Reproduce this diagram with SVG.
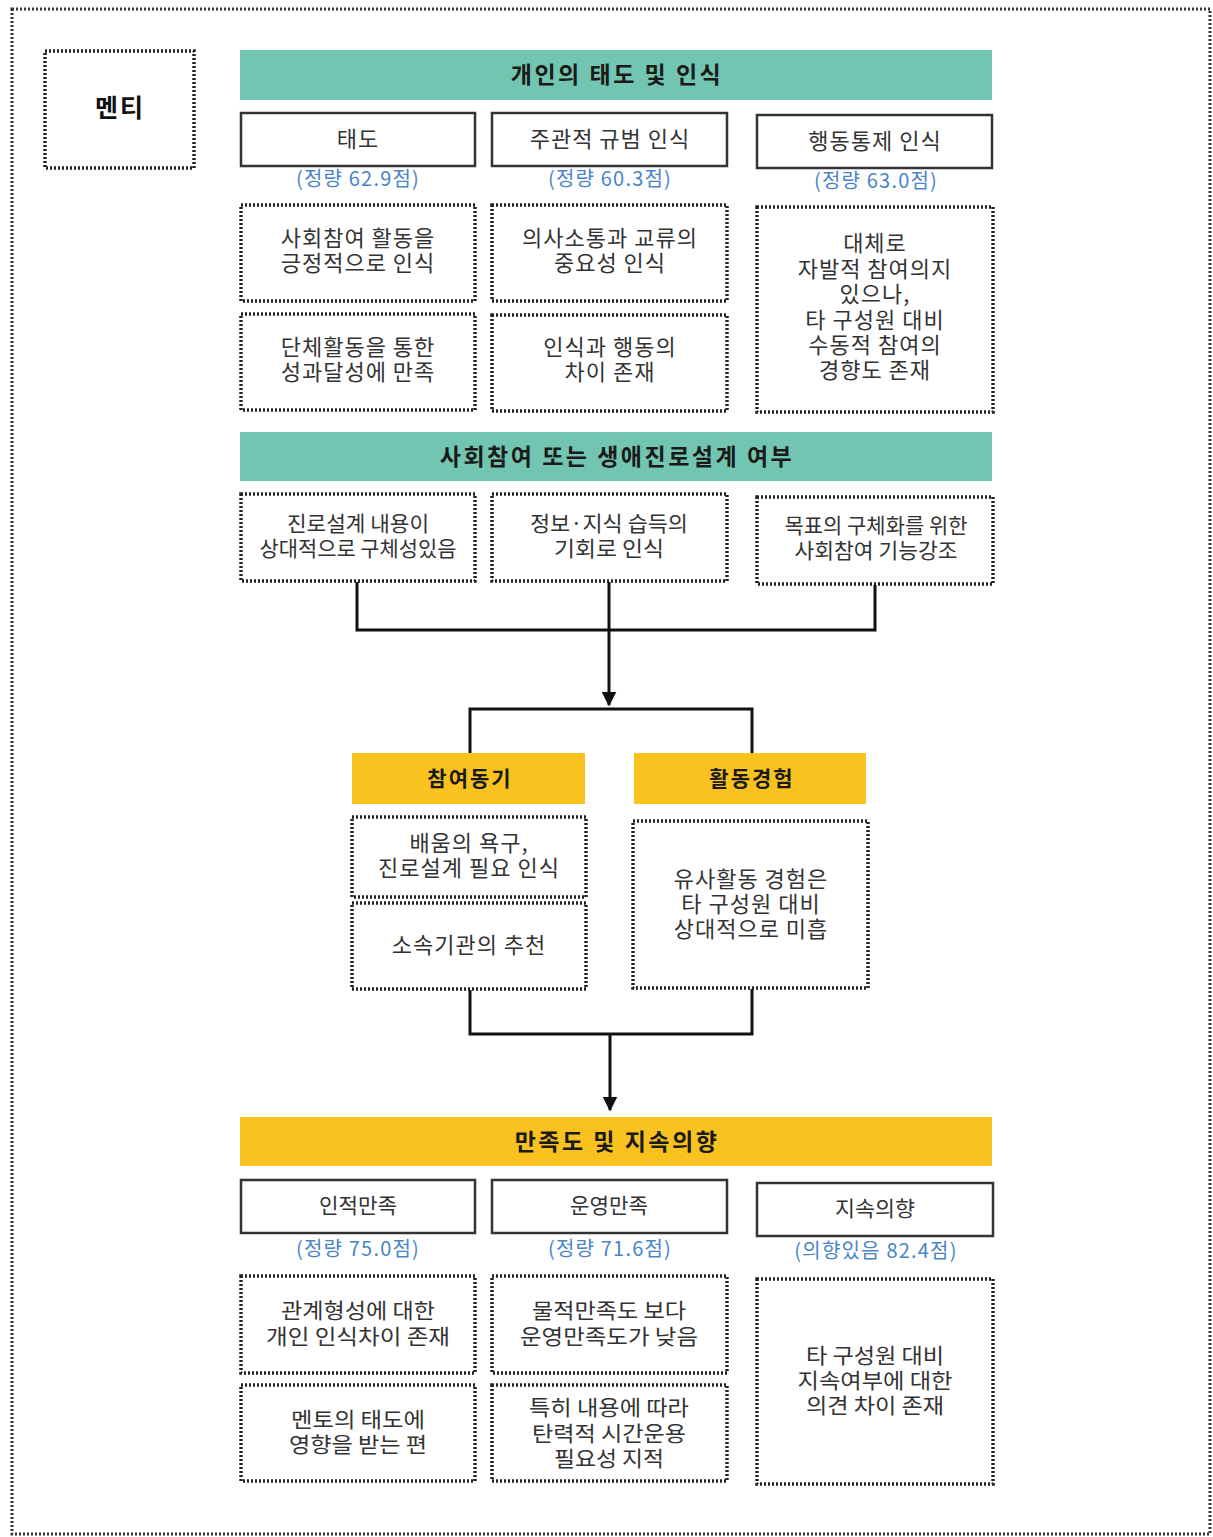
<svg xmlns="http://www.w3.org/2000/svg" width="1213" height="1537" viewBox="0 0 1213 1537">
<defs>
<style>
text{font-family:"Noto Sans CJK KR","Noto Sans",sans-serif;fill:#333;text-anchor:middle;}
.t{font-size:22px;letter-spacing:1px;}
.c{font-size:21px;}
.h{font-size:23px;font-weight:bold;fill:#1a1a1a;letter-spacing:2.5px;}
.s{font-size:20px;fill:#4a84c8;letter-spacing:1.2px;}
.solid{fill:#fff;stroke:#333;stroke-width:2.5;}
.dot{fill:#fff;stroke:#222;stroke-width:3.5;stroke-dasharray:2 2;}
.teal{fill:#72C6B1;}
.gold{fill:#F9C21E;}
.conn{fill:none;stroke:#111;stroke-width:3;}
</style>
<marker id="arr" viewBox="0 0 10 10" refX="9" refY="5" markerWidth="5" markerHeight="5" orient="auto" markerUnits="strokeWidth">
<path d="M0,0 L10,5 L0,10 z" fill="#111"/>
</marker>
</defs>
<rect x="0" y="0" width="1213" height="1537" fill="#fff"/>
<rect x="12" y="9" width="1198" height="1525" fill="none" stroke="#333" stroke-width="3" stroke-dasharray="2 2"/>

<g id="mentee">
<rect class="dot" x="45" y="51" width="149" height="117"/>
<text x="120" y="117" style="font-size:25px;font-weight:bold;fill:#111;letter-spacing:2px">멘티</text>
</g>

<g id="header1">
<rect class="teal" x="240" y="50" width="752" height="50"/>
<text class="h" x="617" y="83">개인의 태도 및 인식</text>
</g>

<g id="attitude">
<rect class="solid" x="241" y="113" width="234" height="53"/>
<text class="t" x="358" y="147">태도</text>
<text class="s" x="358" y="186">(정량 62.9점)</text>
</g>
<g id="norm">
<rect class="solid" x="492" y="113" width="235" height="53"/>
<text class="t" x="610" y="147">주관적 규범 인식</text>
<text class="s" x="610" y="186">(정량 60.3점)</text>
</g>
<g id="control">
<rect class="solid" x="757" y="115" width="235" height="53"/>
<text class="t" x="875" y="149">행동통제 인식</text>
<text class="s" x="876" y="188">(정량 63.0점)</text>
</g>

<g id="a1">
<rect class="dot" x="241" y="205" width="234" height="96"/>
<text class="t" x="358" y="246">사회참여 활동을</text>
<text class="t" x="358" y="271">긍정적으로 인식</text>
</g>
<g id="a2">
<rect class="dot" x="241" y="314" width="234" height="96"/>
<text class="t" x="358" y="355">단체활동을 통한</text>
<text class="t" x="358" y="380">성과달성에 만족</text>
</g>
<g id="n1">
<rect class="dot" x="492" y="205" width="235" height="96"/>
<text class="t" x="610" y="246">의사소통과 교류의</text>
<text class="t" x="610" y="271">중요성 인식</text>
</g>
<g id="n2">
<rect class="dot" x="492" y="315" width="235" height="96"/>
<text class="t" x="610" y="355">인식과 행동의</text>
<text class="t" x="610" y="380">차이 존재</text>
</g>
<g id="c1">
<rect class="dot" x="757" y="207" width="236" height="205"/>
<text class="t" x="875" y="251">대체로</text>
<text class="t" x="875" y="277">자발적 참여의지</text>
<text class="t" x="875" y="302">있으나,</text>
<text class="t" x="875" y="328">타 구성원 대비</text>
<text class="t" x="875" y="353">수동적 참여의</text>
<text class="t" x="875" y="378">경향도 존재</text>
</g>

<g id="header2">
<rect class="teal" x="240" y="432" width="752" height="49"/>
<text class="h" x="617" y="465">사회참여 또는 생애진로설계 여부</text>
</g>

<g id="p1">
<rect class="dot" x="241" y="494" width="234" height="87"/>
<text class="c" x="358" y="531" textLength="142" lengthAdjust="spacingAndGlyphs">진로설계 내용이</text>
<text class="c" x="358" y="556" textLength="197" lengthAdjust="spacingAndGlyphs">상대적으로 구체성있음</text>
</g>
<g id="p2">
<rect class="dot" x="492" y="494" width="235" height="87"/>
<text class="c" x="609" y="531" textLength="158" lengthAdjust="spacingAndGlyphs">정보·지식 습득의</text>
<text class="c" x="609" y="556" textLength="110" lengthAdjust="spacingAndGlyphs">기회로 인식</text>
</g>
<g id="p3">
<rect class="dot" x="757" y="497" width="236" height="87"/>
<text class="c" x="876" y="533" textLength="183" lengthAdjust="spacingAndGlyphs">목표의 구체화를 위한</text>
<text class="c" x="876" y="558" textLength="163" lengthAdjust="spacingAndGlyphs">사회참여 기능강조</text>
</g>

<g id="motive">
<rect class="gold" x="352" y="753" width="233" height="51"/>
<text class="h" x="470" y="786" style="font-size:21px;letter-spacing:2px">참여동기</text>
</g>
<g id="experience">
<rect class="gold" x="634" y="753" width="232" height="51"/>
<text class="h" x="752" y="786" style="font-size:21px;letter-spacing:2px">활동경험</text>
</g>
<g id="m1">
<rect class="dot" x="352" y="817" width="234" height="80"/>
<text class="t" x="469" y="851">배움의 욕구,</text>
<text class="t" x="469" y="876">진로설계 필요 인식</text>
</g>
<g id="m2">
<rect class="dot" x="352" y="903" width="234" height="86"/>
<text class="t" x="469" y="953">소속기관의 추천</text>
</g>
<g id="e1">
<rect class="dot" x="633" y="821" width="235" height="167"/>
<text class="t" x="751" y="887">유사활동 경험은</text>
<text class="t" x="751" y="912">타 구성원 대비</text>
<text class="t" x="751" y="937">상대적으로 미흡</text>
</g>

<g id="header3">
<rect class="gold" x="240" y="1117" width="752" height="49"/>
<text class="h" x="617" y="1150">만족도 및 지속의향</text>
</g>

<g id="human">
<rect class="solid" x="241" y="1180" width="234" height="53"/>
<text class="c" x="358" y="1213" textLength="78" lengthAdjust="spacingAndGlyphs">인적만족</text>
<text class="s" x="358" y="1256">(정량 75.0점)</text>
</g>
<g id="oper">
<rect class="solid" x="492" y="1180" width="235" height="53"/>
<text class="c" x="609" y="1213" textLength="78" lengthAdjust="spacingAndGlyphs">운영만족</text>
<text class="s" x="610" y="1256">(정량 71.6점)</text>
</g>
<g id="intent">
<rect class="solid" x="757" y="1183" width="236" height="53"/>
<text class="c" x="875" y="1216" textLength="80" lengthAdjust="spacingAndGlyphs">지속의향</text>
<text class="s" x="876" y="1258">(의향있음 82.4점)</text>
</g>

<g id="h1">
<rect class="dot" x="241" y="1276" width="234" height="97"/>
<text class="c" x="358" y="1318" textLength="154" lengthAdjust="spacingAndGlyphs">관계형성에 대한</text>
<text class="c" x="358" y="1344" textLength="184" lengthAdjust="spacingAndGlyphs">개인 인식차이 존재</text>
</g>
<g id="h2">
<rect class="dot" x="241" y="1385" width="234" height="96"/>
<text class="c" x="358" y="1427" textLength="134" lengthAdjust="spacingAndGlyphs">멘토의 태도에</text>
<text class="c" x="358" y="1452" textLength="138" lengthAdjust="spacingAndGlyphs">영향을 받는 편</text>
</g>
<g id="o1">
<rect class="dot" x="492" y="1276" width="235" height="97"/>
<text class="c" x="609" y="1318" textLength="154" lengthAdjust="spacingAndGlyphs">물적만족도 보다</text>
<text class="c" x="609" y="1344" textLength="178" lengthAdjust="spacingAndGlyphs">운영만족도가 낮음</text>
</g>
<g id="o2">
<rect class="dot" x="492" y="1385" width="235" height="96"/>
<text class="c" x="609" y="1415" textLength="160" lengthAdjust="spacingAndGlyphs">특히 내용에 따라</text>
<text class="c" x="609" y="1441" textLength="154" lengthAdjust="spacingAndGlyphs">탄력적 시간운용</text>
<text class="c" x="609" y="1466" textLength="110" lengthAdjust="spacingAndGlyphs">필요성 지적</text>
</g>
<g id="i1">
<rect class="dot" x="757" y="1279" width="236" height="205"/>
<text class="c" x="875" y="1363" textLength="138" lengthAdjust="spacingAndGlyphs">타 구성원 대비</text>
<text class="c" x="875" y="1388" textLength="155" lengthAdjust="spacingAndGlyphs">지속여부에 대한</text>
<text class="c" x="875" y="1413" textLength="138" lengthAdjust="spacingAndGlyphs">의견 차이 존재</text>
</g>

<g id="connectors">
<polyline class="conn" points="357,582 357,630 875,630 875,585"/>
<line class="conn" x1="609" y1="582" x2="609" y2="705" marker-end="url(#arr)"/>
<polyline class="conn" points="470,753 470,709 752,709 752,753"/>
<polyline class="conn" points="470,990 470,1034 752,1034 752,989"/>
<line class="conn" x1="610" y1="1034" x2="610" y2="1110" marker-end="url(#arr)"/>
</g>
</svg>
